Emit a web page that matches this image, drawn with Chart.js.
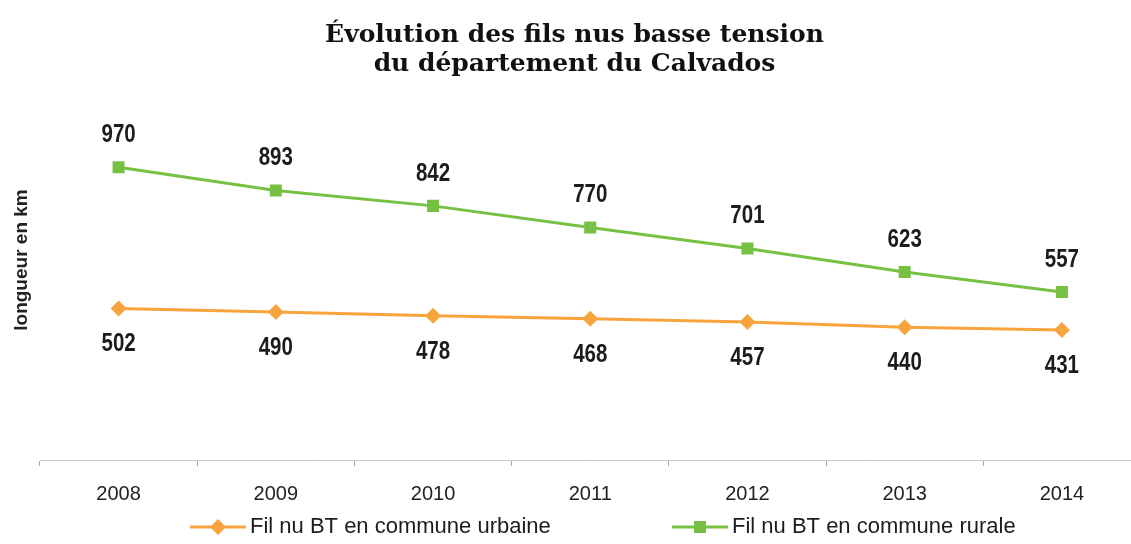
<!DOCTYPE html>
<html>
<head>
<meta charset="utf-8">
<script src="https://cdn.jsdelivr.net/npm/chart.js@4"></script>
<style>
  html, body { margin: 0; padding: 0; background: #fff; overflow: hidden; }
  #wrap { width: 1149px; height: 544px; }
</style>
</head>
<body>
<div id="wrap"><canvas id="chart"></canvas></div>
<script>
var years = ['2008', '2009', '2010', '2011', '2012', '2013', '2014'];
var urbaine = [502, 490, 478, 468, 457, 440, 431];
var rurale = [970, 893, 842, 770, 701, 623, 557];
var seriesNames = ['Fil nu BT en commune urbaine', 'Fil nu BT en commune rurale'];
var titleLines = ['Évolution des fils nus basse tension', 'du département du Calvados'];
var yTitle = 'longueur en km';

var orange = '#f8a43e';
var green = '#76c043';

// value labels, above the green line and below the orange one (narrow bold digits)
var valueLabels = {
  id: 'valueLabels',
  afterDatasetsDraw: function(chart) {
    var ctx = chart.ctx;
    chart.data.datasets.forEach(function(ds, i) {
      var meta = chart.getDatasetMeta(i);
      meta.data.forEach(function(pt, j) {
        ctx.save();
        ctx.translate(pt.x, pt.y + ds.labelOffset);
        ctx.scale(0.82, 1);
        ctx.font = 'bold 25px Arial, sans-serif';
        ctx.fillStyle = '#1c1c1c';
        ctx.textAlign = 'center';
        ctx.textBaseline = 'middle';
        ctx.fillText(ds.data[j], 0, 0);
        ctx.restore();
      });
    });
  }
};

// y title (sits a bit above the middle of the plot) and the legend at the bottom
var extras = {
  id: 'extras',
  afterDraw: function(chart) {
    var ctx = chart.ctx;
    ctx.save();
    ctx.translate(22, 260);
    ctx.rotate(-Math.PI / 2);
    ctx.font = 'bold 19px Arial, sans-serif';
    ctx.fillStyle = '#222';
    ctx.textAlign = 'center';
    ctx.textBaseline = 'middle';
    ctx.fillText(yTitle, 0, 0);
    ctx.restore();

    var y = chart.height - 17;
    var starts = [190, 672];
    ctx.save();
    ctx.font = '22px Arial, sans-serif';
    ctx.textBaseline = 'middle';
    chart.data.datasets.forEach(function(ds, i) {
      var x = starts[i];
      ctx.strokeStyle = ds.borderColor;
      ctx.lineWidth = 3;
      ctx.beginPath();
      ctx.moveTo(x, y);
      ctx.lineTo(x + 56, y);
      ctx.stroke();
      ctx.fillStyle = ds.backgroundColor;
      var cx = x + 28;
      ctx.beginPath();
      if (ds.pointStyle === 'rectRot') {
        ctx.moveTo(cx, y - 8);
        ctx.lineTo(cx + 8, y);
        ctx.lineTo(cx, y + 8);
        ctx.lineTo(cx - 8, y);
      } else {
        ctx.rect(cx - 6, y - 6, 12, 12);
      }
      ctx.fill();
      ctx.fillStyle = '#1c1c1c';
      ctx.fillText(ds.label, x + 60, y);
    });
    ctx.restore();
  }
};

new Chart(document.getElementById('chart'), {
  type: 'line',
  data: {
    labels: years,
    datasets: [{
      label: seriesNames[0],
      data: urbaine,
      borderColor: orange,
      backgroundColor: orange,
      borderWidth: 3,
      pointStyle: 'rectRot',
      pointRadius: 8,
      pointBorderWidth: 0,
      labelOffset: 36
    }, {
      label: seriesNames[1],
      data: rurale,
      borderColor: green,
      backgroundColor: green,
      borderWidth: 3,
      pointStyle: 'rect',
      pointRadius: 8.5,
      pointBorderWidth: 0,
      labelOffset: -32
    }]
  },
  options: {
    responsive: true,
    maintainAspectRatio: false,
    animation: false,
    layout: { padding: { left: 0, right: 0, top: 0, bottom: 22 } },
    plugins: {
      legend: { display: false },
      tooltip: { enabled: false },
      title: {
        display: true,
        text: titleLines,
        color: '#111',
        font: { family: '"DejaVu Serif", "Liberation Serif", serif', size: 25, weight: 'bold', lineHeight: 1.16 },
        padding: { top: 21, bottom: 49 }
      }
    },
    scales: {
      x: {
        offset: true,
        grid: { display: true, offset: true, drawOnChartArea: false, tickLength: 6, tickColor: '#aaa' },
        border: { display: true, color: '#c8c8c8', width: 1, dash: [6, 2] },
        ticks: { color: '#222', font: { family: 'Arial, sans-serif', size: 20 }, padding: 16 }
      },
      y: {
        min: 0,
        max: 1100,
        grid: { display: false, drawTicks: false },
        border: { display: false },
        ticks: { display: false },
        // room on the left for the rotated title drawn by the plugin
        afterFit: function(scale) { scale.width = 40; }
      }
    }
  },
  plugins: [valueLabels, extras]
});
</script>
</body>
</html>
